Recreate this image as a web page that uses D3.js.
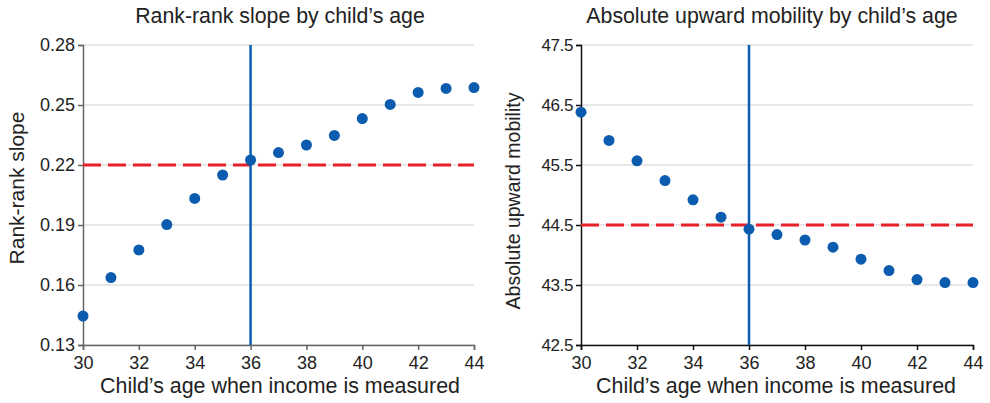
<!DOCTYPE html>
<html>
<head>
<meta charset="utf-8">
<script src="https://cdn.jsdelivr.net/npm/d3@7"></script>
<style>
	body { margin: 0; background: #fff; }
	svg text { font-family: "Liberation Sans", Arial, sans-serif; fill: #222; }
	.grid line { stroke: #cfcfcf; stroke-width: 1; }
	.axis text { font-size: 18px; }
	.title { font-size: 21.3px; }
	.axisLabel { font-size: 21.4px; }
</style>
</head>
<body>
<svg id="chart" width="990" height="403"></svg>
<script>
// ages on the x axis
var ages = [30, 31, 32, 33, 34, 35, 36, 37, 38, 39, 40, 41, 42, 43, 44];
var xTicks = [30, 32, 34, 36, 38, 40, 42, 44];

// left panel: rank-rank slope
var slopeValues = [0.1445, 0.1637, 0.1775, 0.1902, 0.2033, 0.215, 0.2225, 0.2262, 0.230, 0.2348, 0.2432, 0.2503, 0.2563, 0.2583, 0.2587];
var slopeTicks = [0.13, 0.16, 0.19, 0.22, 0.25, 0.28];
var slopeRef = 0.22;

// right panel: absolute upward mobility
var mobilityValues = [46.38, 45.91, 45.57, 45.24, 44.92, 44.63, 44.43, 44.34, 44.25, 44.13, 43.93, 43.74, 43.59, 43.54, 43.54];
var mobilityTicks = [42.5, 43.5, 44.5, 45.5, 46.5, 47.5];
var mobilityRef = 44.5;

var cutoffAge = 36;

var svg = d3.select("#chart");

var panels = [
	{
		x0: 83, x1: 474,
		title: "Rank-rank slope by child\u2019s age",
		titleX: 280,
		xLabelX: 280,
		yLabel: "Rank-rank slope",
		yLabelX: 24, yLabelY: 188, yLabelSize: 21,
		values: slopeValues,
		ticks: slopeTicks,
		ref: slopeRef,
		fmt: d3.format(".2f"),
		tickSize: 18, tickSpacing: 0,
		axisColour: "#666"
	},
	{
		x0: 581, x1: 973,
		title: "Absolute upward mobility by child\u2019s age",
		titleX: 772,
		xLabelX: 776,
		yLabel: "Absolute upward mobility",
		yLabelX: 520, yLabelY: 201, yLabelSize: 19.5,
		values: mobilityValues,
		ticks: mobilityTicks,
		ref: mobilityRef,
		fmt: d3.format(".1f"),
		tickSize: 17, tickSpacing: -0.4,
		axisColour: "#111"
	}
];

var yTop = 45,
	yBottom = 345;

panels.forEach(function(p) {
	var x = d3.scaleLinear().domain([30, 44]).range([p.x0, p.x1]);
	var y = d3
		.scaleLinear()
		.domain([p.ticks[0], p.ticks[p.ticks.length - 1]])
		.range([yBottom, yTop]);

	var g = svg.append("g");

	// horizontal gridlines
	g.append("g")
		.classed("grid", true)
		.selectAll("line")
		.data(p.ticks)
		.enter()
		.append("line")
		.attr("x1", p.x0)
		.attr("x2", p.x1)
		.attr("y1", d => y(d))
		.attr("y2", d => y(d));

	// y axis
	var yAxis = g
		.append("g")
		.classed("axis", true)
		.attr("transform", "translate(" + p.x0 + ",0)")
		.call(d3.axisLeft(y).tickValues(p.ticks).tickFormat(p.fmt).tickSize(5).tickPadding(3));
	yAxis
		.selectAll("text")
		.style("font-size", p.tickSize + "px")
		.style("letter-spacing", p.tickSpacing + "px");

	// x axis
	var xAxis = g
		.append("g")
		.classed("axis", true)
		.attr("transform", "translate(0," + yBottom + ")")
		.call(d3.axisBottom(x).tickValues(xTicks).tickFormat(d3.format("d")).tickSize(5).tickPadding(6));

	g.selectAll(".axis path, .axis line")
		.attr("stroke", p.axisColour)
		.attr("stroke-width", 1.5);
	g.selectAll(".axis text").attr("fill", "#222");

	// reference line (dashed red)
	g.append("line")
		.attr("x1", p.x0)
		.attr("x2", p.x1)
		.attr("y1", y(p.ref))
		.attr("y2", y(p.ref))
		.attr("stroke", "#e8202a")
		.attr("stroke-width", 3)
		.attr("stroke-dasharray", "18,7");

	// vertical line at cutoff age
	g.append("line")
		.attr("x1", x(cutoffAge))
		.attr("x2", x(cutoffAge))
		.attr("y1", yTop)
		.attr("y2", yBottom)
		.attr("stroke", "#0b5cae")
		.attr("stroke-width", 2.5);

	// dots
	g.selectAll(".dot")
		.data(ages)
		.enter()
		.append("circle")
		.classed("dot", true)
		.attr("cx", d => x(d))
		.attr("cy", (d, i) => y(p.values[i]))
		.attr("r", 5.5)
		.attr("fill", "#0b5cae");

	// title
	g.append("text")
		.classed("title", true)
		.attr("x", p.titleX)
		.attr("y", 23)
		.attr("text-anchor", "middle")
		.text(p.title);

	// x label
	g.append("text")
		.classed("axisLabel", true)
		.attr("x", p.xLabelX)
		.attr("y", 393)
		.attr("text-anchor", "middle")
		.text("Child\u2019s age when income is measured");

	// y label
	g.append("text")
		.classed("axisLabel", true)
		.attr("transform", "translate(" + p.yLabelX + "," + p.yLabelY + ") rotate(-90)")
		.attr("text-anchor", "middle")
		.style("font-size", p.yLabelSize + "px")
		.text(p.yLabel);
});
</script>
</body>
</html>
